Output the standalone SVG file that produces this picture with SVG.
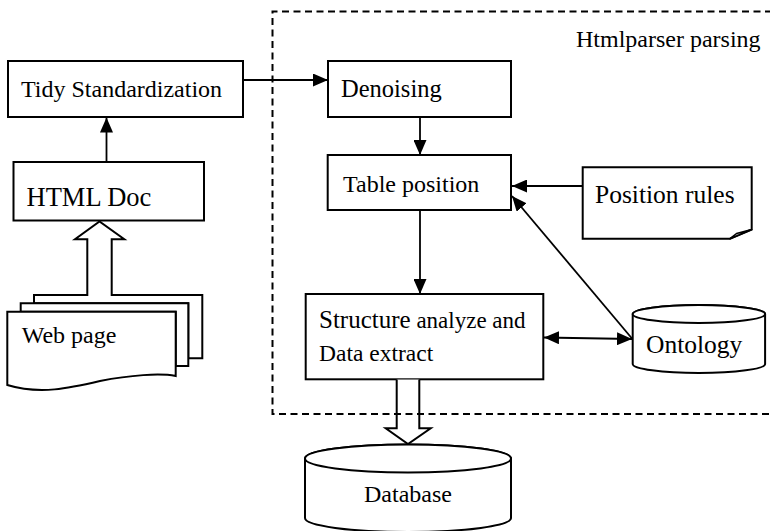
<svg xmlns="http://www.w3.org/2000/svg" width="770" height="531" viewBox="0 0 770 531">
  <style>
    .box { fill: #fff; stroke: #000; stroke-width: 2; }
    .lbl { font-family: "Liberation Serif", "Times New Roman", serif; fill: #000; }
    .edge { fill: none; stroke: #000; stroke-width: 1.8; }
    .hollow { fill: #fff; stroke: #000; stroke-width: 2; stroke-linejoin: miter; }
    .frame { fill: none; stroke: #000; stroke-width: 2; stroke-dasharray: 7 4.5; }
  </style>
  <defs>
    <marker id="arrow" markerUnits="userSpaceOnUse" markerWidth="15" markerHeight="13" refX="15" refY="6.5" orient="auto-start-reverse">
      <path d="M0,0 L15,6.5 L0,13 Z" fill="#000"/>
    </marker>
  </defs>
  <rect width="770" height="531" fill="#fff"/>

  <!-- Tidy Standardization -->
  <g id="tidy">
    <rect class="box" x="8" y="61" width="235" height="56"/>
    <text class="lbl" x="21" y="97" font-size="24">Tidy Standardization</text>
  </g>

  <!-- HTML Doc -->
  <g id="html-doc">
    <rect class="box" x="13.5" y="162" width="190.5" height="58.5"/>
    <text class="lbl" x="26.5" y="206" font-size="26.5">HTML Doc</text>
  </g>

  <!-- Web page: stacked multi-document -->
  <g id="web-page">
    <path class="box" d="M34,295 H202.3 V358.3 H188.3 V303.3 H34 Z"/>
    <path class="box" d="M20.7,303.3 H188.3 V366 H175.7 V311.7 H20.7 Z"/>
    <path class="box" d="M7.3,311.7 H175.7 V376 C160,373 130,375 100,381 C70,388 40,395 7.3,385 Z"/>
    <text class="lbl" x="21.7" y="343" font-size="24">Web page</text>
  </g>

  <!-- Denoising -->
  <g id="denoising">
    <rect class="box" x="328" y="61" width="183" height="56"/>
    <text class="lbl" x="341" y="97" font-size="24.5">Denoising</text>
  </g>

  <!-- Table position -->
  <g id="table-position">
    <rect class="box" x="327.7" y="155" width="183.3" height="55"/>
    <text class="lbl" x="343" y="192" font-size="24">Table position</text>
  </g>

  <!-- Position rules (note with folded corner) -->
  <g id="position-rules">
    <path class="box" d="M582.7,167.3 H751.7 V229.5 L730,238.7 H582.7 Z"/>
    <path d="M751.7,229.5 L736.5,233.5 L730,238.7 Z" fill="#c8c8c8" stroke="#000" stroke-width="1.5" stroke-linejoin="round"/>
    <text class="lbl" x="595" y="203" font-size="25.5">Position rules</text>
  </g>

  <!-- Structure analyze and Data extract -->
  <g id="structure">
    <rect class="box" x="305.7" y="294" width="237.6" height="85.3"/>
    <text class="lbl" x="319" y="328" font-size="25">Structure<tspan font-size="23"> analyze and</tspan></text>
    <text class="lbl" x="319" y="361" font-size="23.5">Data extract</text>
  </g>

  <!-- Ontology (cylinder) -->
  <g id="ontology">
    <path class="box" d="M632.7,314 V364 A66.2,9 0 0 0 765.1,364 V314 A66.2,9 0 0 0 632.7,314 Z"/>
    <ellipse class="box" cx="698.9" cy="314" rx="66.2" ry="9"/>
    <text class="lbl" x="646" y="353" font-size="25.5">Ontology</text>
  </g>

  <!-- Database (cylinder) -->
  <g id="database">
    <path class="box" d="M305,458.5 V518 A103,14 0 0 0 511,518 V458.5 A103,14 0 0 0 305,458.5 Z"/>
    <ellipse class="box" cx="408" cy="458.5" rx="103" ry="14"/>
    <text class="lbl" x="364" y="502" font-size="24">Database</text>
  </g>

  <!-- Connectors -->
  <g id="connectors">
    <line class="edge" x1="243" y1="80" x2="328" y2="80" marker-end="url(#arrow)"/>
    <line class="edge" x1="106.5" y1="162" x2="106.5" y2="117.5" marker-end="url(#arrow)"/>
    <line class="edge" x1="420" y1="117" x2="420" y2="155" marker-end="url(#arrow)"/>
    <line class="edge" x1="582.7" y1="186" x2="512" y2="186" marker-end="url(#arrow)"/>
    <line class="edge" x1="420" y1="210" x2="420" y2="294" marker-end="url(#arrow)"/>
    <line class="edge" x1="632" y1="338.5" x2="512" y2="196" marker-end="url(#arrow)"/>
    <line class="edge" x1="544" y1="337.5" x2="632" y2="339" marker-start="url(#arrow)" marker-end="url(#arrow)"/>
    <!-- block arrows -->
    <path class="hollow" d="M87.3,296 V239.3 H75 L99.5,221.5 L124.3,239.3 H111.7 V296"/>
    <path class="hollow" d="M396.7,379.5 V428.3 H385.7 L408,444 L430.7,428.3 H419.3 V379.5"/>
  </g>

  <!-- Htmlparser parsing region -->
  <g id="htmlparser-region">
    <path class="frame" d="M772,11.5 H272.5 V414 H772"/>
    <text class="lbl" x="576" y="47" font-size="24">Htmlparser parsing</text>
  </g>
</svg>
